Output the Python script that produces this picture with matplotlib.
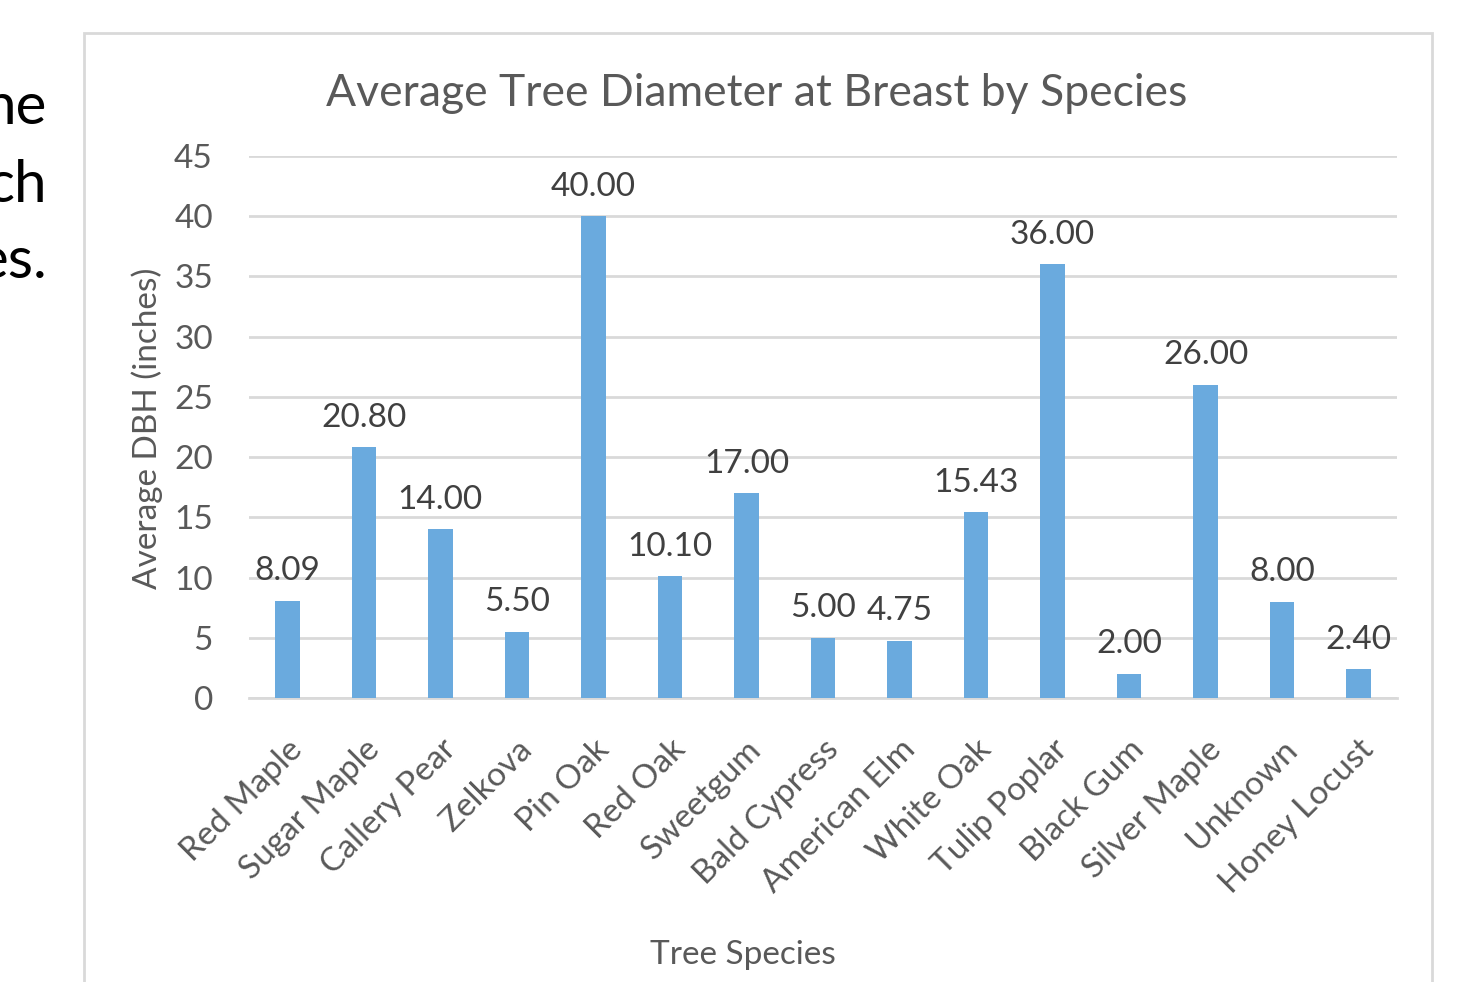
"""
Average tree diameter at breast height by species (bar chart).
"""
import matplotlib.pyplot as plt
from matplotlib.patches import Rectangle
import numpy as np

SPECIES = ['Red Maple', 'Sugar Maple', 'Callery Pear', 'Zelkova', 'Pin Oak',
           'Red Oak', 'Sweetgum', 'Bald Cypress', 'American Elm', 'White Oak',
           'Tulip Poplar', 'Black Gum', 'Silver Maple', 'Unknown', 'Honey Locust']
DBH = [8.09, 20.80, 14.00, 5.50, 40.00, 10.10, 17.00, 5.00, 4.75, 15.43,
       36.00, 2.00, 26.00, 8.00, 2.40]
Y_TICKS = [0, 5, 10, 15, 20, 25, 30, 35, 40, 45]
SIDE_TEXT = ['he', 'ch', 'es.']

BAR_COLOR = '#6aaade'
TEXT_GRAY = '#595959'
GRID_GRAY = '#d9d9d9'

plt.rcParams['font.family'] = ['Lato', 'DejaVu Sans']

fig = plt.figure(figsize=(14.74, 9.82), dpi=100)

# chart frame (behind everything)
frame = Rectangle((84 / 1474, -0.01), (1432 - 84) / 1474, 1 - 33 / 982 + 0.01,
                  transform=fig.transFigure, facecolor='white',
                  edgecolor=GRID_GRAY, linewidth=2, zorder=-10)
fig.patches.append(frame)

# cropped slide text on the left
for i, txt in enumerate(SIDE_TEXT):
    fig.text(47 / 1474, 1 - (108 + i * 77) / 982, txt, ha='right', va='center',
             fontsize=42, color='black')

ax = fig.add_axes([249 / 1474, 1 - 698 / 982, (1397 - 249) / 1474, (698 - 156) / 982])
ax.set_zorder(5)
ax.patch.set_alpha(0)

x = np.arange(len(SPECIES))
ax.bar(x, DBH, width=0.32, color=BAR_COLOR, zorder=3)

for xi, v in zip(x, DBH):
    ax.text(xi, v + 1.2, f"{v:.2f}", ha='center', va='bottom', fontsize=24,
            color='#404040')

ax.set_xlim(-0.5, len(SPECIES) - 0.5)
ax.set_ylim(0, 45)
ax.set_yticks(Y_TICKS)
ax.yaxis.grid(True, color=GRID_GRAY, linewidth=2, zorder=0)
ax.set_axisbelow(True)
for s in ['top', 'right', 'left']:
    ax.spines[s].set_visible(False)
ax.spines['bottom'].set_color(GRID_GRAY)
ax.spines['bottom'].set_linewidth(2)
ax.tick_params(axis='both', length=0, labelsize=24, colors=TEXT_GRAY)
ax.tick_params(axis='y', pad=26)
ax.set_xticks(x)
ax.set_xticklabels(SPECIES, rotation=45, ha='right', rotation_mode='anchor')
ax.tick_params(axis='x', pad=26)

fig.text(757 / 1474, 1 - 93 / 982, 'Average Tree Diameter at Breast by Species',
         ha='center', va='center', fontsize=32, color=TEXT_GRAY)
ax.set_ylabel('Average DBH (inches)', fontsize=24, color=TEXT_GRAY)
ax.yaxis.set_label_coords(163 / 1474, 1 - 428 / 982, transform=fig.transFigure)
fig.text(743 / 1474, 1 - 955 / 982, 'Tree Species', ha='center', va='center',
         fontsize=24, color=TEXT_GRAY)

plt.savefig('out.png', dpi=100)
